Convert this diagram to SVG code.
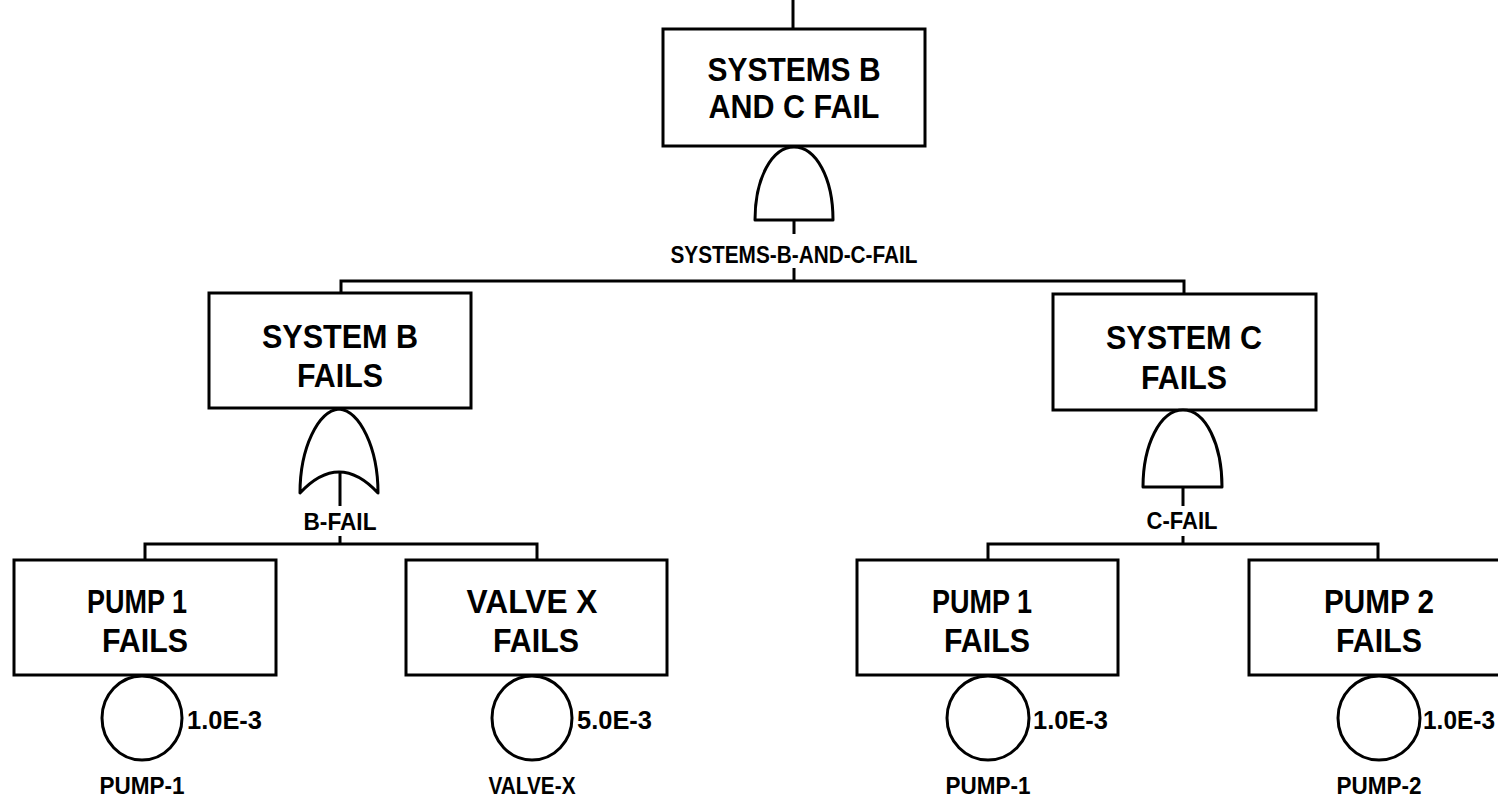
<svg xmlns="http://www.w3.org/2000/svg" width="1498" height="800" viewBox="0 0 1498 800">
<defs>
<style>
.box{fill:#fff;stroke:#000;stroke-width:3}
.gate{fill:#fff;stroke:#000;stroke-width:3;stroke-linejoin:round}
.ev{fill:#fff;stroke:#000;stroke-width:3}
.ln{fill:none;stroke:#000;stroke-width:3}
.t{font-family:"Liberation Sans",Arial,sans-serif;font-weight:bold;font-size:34px;text-anchor:middle;fill:#000}
.s{font-family:"Liberation Sans",Arial,sans-serif;font-weight:bold;font-size:23px;text-anchor:middle;fill:#000}
.v{font-family:"Liberation Sans",Arial,sans-serif;font-weight:bold;font-size:26px;text-anchor:start;fill:#000}
</style>
</defs>
<rect width="1498" height="800" fill="#fff"/>
<g id="connectors">
<path class="ln" d="M793,0 V29"/>
<path class="ln" d="M794,220 V234 M794,268 V281"/>
<path class="ln" d="M341,293 V281 H1184 V294"/>
<path class="ln" d="M340,472 V506 M340,536 V544"/>
<path class="ln" d="M145,560 V544 H537 V560"/>
<path class="ln" d="M1183,487 V506 M1183,536 V544"/>
<path class="ln" d="M988,560 V544 H1378 V560"/>
</g>
<g id="top">
<rect class="box" x="663" y="29" width="262" height="117"/>
<text class="t" x="794" y="81" textLength="173" lengthAdjust="spacingAndGlyphs">SYSTEMS B</text>
<text class="t" x="794" y="118" textLength="171" lengthAdjust="spacingAndGlyphs">AND C FAIL</text>
<path class="gate" d="M755,220 C755,178 772,147 794,147 C816,147 833,178 833,220 Z"/>
<text class="s" x="794" y="263" textLength="247" lengthAdjust="spacingAndGlyphs">SYSTEMS-B-AND-C-FAIL</text>
</g>
<g id="systemB">
<rect class="box" x="209" y="293" width="262" height="115"/>
<text class="t" x="340" y="348" textLength="156" lengthAdjust="spacingAndGlyphs">SYSTEM B</text>
<text class="t" x="340" y="387" textLength="86" lengthAdjust="spacingAndGlyphs">FAILS</text>
<path class="gate" d="M300,493 C300,448 318,411 339,409 C360,411 378,448 378,493 Q339,451 300,493 Z"/>
<text class="s" x="340" y="530" textLength="73" lengthAdjust="spacingAndGlyphs">B-FAIL</text>
</g>
<g id="systemC">
<rect class="box" x="1053" y="294" width="263" height="116"/>
<text class="t" x="1184" y="349" textLength="156" lengthAdjust="spacingAndGlyphs">SYSTEM C</text>
<text class="t" x="1184" y="389" textLength="86" lengthAdjust="spacingAndGlyphs">FAILS</text>
<path class="gate" d="M1143,487 C1143,445 1160,410 1183,410 C1206,410 1222,445 1222,487 Z"/>
<text class="s" x="1182" y="529" textLength="71" lengthAdjust="spacingAndGlyphs">C-FAIL</text>
</g>
<g id="pump1B">
<rect class="box" x="14" y="560" width="262" height="115"/>
<text class="t" x="137" y="613" textLength="100" lengthAdjust="spacingAndGlyphs">PUMP 1</text>
<text class="t" x="145" y="652" textLength="86" lengthAdjust="spacingAndGlyphs">FAILS</text>
<ellipse class="ev" cx="142" cy="718" rx="40" ry="42"/>
<text class="v" x="187" y="729" textLength="75" lengthAdjust="spacingAndGlyphs">1.0E-3</text>
<text class="s" x="142" y="794" textLength="85" lengthAdjust="spacingAndGlyphs">PUMP-1</text>
</g>
<g id="valveX">
<rect class="box" x="406" y="560" width="261" height="115"/>
<text class="t" x="532" y="613" textLength="131" lengthAdjust="spacingAndGlyphs">VALVE X</text>
<text class="t" x="536" y="652" textLength="86" lengthAdjust="spacingAndGlyphs">FAILS</text>
<ellipse class="ev" cx="532" cy="718" rx="40" ry="42"/>
<text class="v" x="577" y="729" textLength="75" lengthAdjust="spacingAndGlyphs">5.0E-3</text>
<text class="s" x="532" y="794" textLength="87" lengthAdjust="spacingAndGlyphs">VALVE-X</text>
</g>
<g id="pump1C">
<rect class="box" x="857" y="560" width="261" height="115"/>
<text class="t" x="982" y="613" textLength="100" lengthAdjust="spacingAndGlyphs">PUMP 1</text>
<text class="t" x="987" y="652" textLength="86" lengthAdjust="spacingAndGlyphs">FAILS</text>
<ellipse class="ev" cx="988" cy="718" rx="41" ry="42"/>
<text class="v" x="1033" y="729" textLength="75" lengthAdjust="spacingAndGlyphs">1.0E-3</text>
<text class="s" x="988" y="794" textLength="85" lengthAdjust="spacingAndGlyphs">PUMP-1</text>
</g>
<g id="pump2">
<rect class="box" x="1249" y="560" width="262" height="115"/>
<text class="t" x="1379" y="613" textLength="110" lengthAdjust="spacingAndGlyphs">PUMP 2</text>
<text class="t" x="1379" y="652" textLength="86" lengthAdjust="spacingAndGlyphs">FAILS</text>
<ellipse class="ev" cx="1379" cy="718" rx="41" ry="42"/>
<text class="v" x="1423" y="729" textLength="72" lengthAdjust="spacingAndGlyphs">1.0E-3</text>
<text class="s" x="1379" y="794" textLength="85" lengthAdjust="spacingAndGlyphs">PUMP-2</text>
</g>
</svg>
